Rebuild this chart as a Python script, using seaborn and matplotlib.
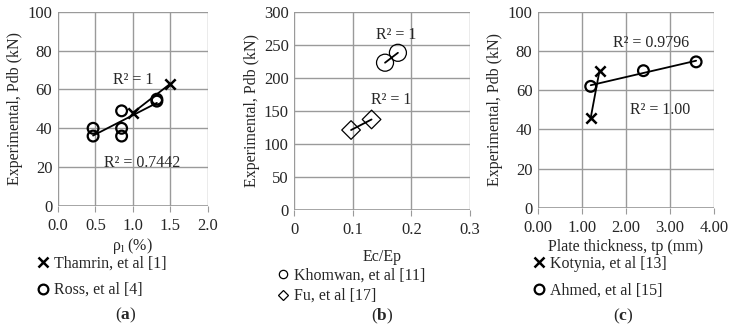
import numpy as np
import matplotlib
matplotlib.use("Agg")
from matplotlib import pyplot as plt
from matplotlib.lines import Line2D
import seaborn as sns

sns.set_style("white")
plt.rcParams['font.family'] = ['Liberation Serif', 'DejaVu Serif']
plt.rcParams['mathtext.fontset'] = 'custom'
plt.rcParams['mathtext.rm'] = 'Liberation Serif'
plt.rcParams['mathtext.it'] = 'Liberation Serif:italic'
plt.rcParams['mathtext.bf'] = 'Liberation Serif:bold'

# (a) reinforcement ratio
thamrin_x = [1.0, 1.5]
thamrin_y = [48, 63]
ross_x = [0.47, 0.47, 0.85, 0.85, 0.85, 1.32, 1.32]
ross_y = [40, 36, 49, 40, 36, 54, 55]

# (b) Ec/Ep
khomwan_x = [0.155, 0.177]
khomwan_y = [223, 238]
fu_x = [0.097, 0.132]
fu_y = [121, 137]

# (c) plate thickness
kotynia_x = [1.2, 1.4]
kotynia_y = [46, 70]
ahmed_x = [1.2, 2.4, 3.6]
ahmed_y = [62, 70, 74.5]

fs = 11.5
tfs = 12
grid_c = '#9a9a9a'
fig = plt.figure(figsize=(7.32, 3.3), dpi=100)
ax1 = fig.add_axes([0.079, 0.376, 0.205, 0.588])
ax2 = fig.add_axes([0.402, 0.364, 0.240, 0.600])
ax3 = fig.add_axes([0.735, 0.370, 0.240, 0.594])

def style(ax, xlim, xticks, ylim, yticks, xfmt):
    ax.set_xlim(*xlim)
    ax.set_ylim(*ylim)
    ax.set_xticks(xticks)
    ax.set_yticks(yticks)
    ax.set_xticklabels([xfmt.format(v) for v in xticks], fontsize=tfs)
    ax.set_yticklabels([str(v) for v in yticks], fontsize=tfs)
    ax.grid(True, color=grid_c, lw=1.0)
    for s in ax.spines.values():
        s.set_visible(False)
    ax.axhline(ylim[0], color=grid_c, lw=1.2, zorder=1)
    ax.axvline(xlim[0], color=grid_c, lw=1.2, zorder=1)
    ax.tick_params(axis='x', direction='out', length=4, color=grid_c, pad=5, bottom=True)
    ax.tick_params(axis='y', length=0, pad=4)
    ax.set_ylabel('Experimental, Pdb (kN)', fontsize=fs, labelpad=3)
    ax.set_axisbelow(True)

line_kws = dict(color='black', lw=1.3)

# panel a
sns.regplot(x=thamrin_x, y=thamrin_y, ax=ax1, scatter=False, ci=None, truncate=True, line_kws=line_kws)
sns.regplot(x=ross_x, y=ross_y, ax=ax1, scatter=False, ci=None, truncate=True, line_kws=line_kws)
sns.scatterplot(x=thamrin_x, y=thamrin_y, ax=ax1, marker='x', color='black', s=55, linewidth=1.8, zorder=3)
sns.scatterplot(x=ross_x, y=ross_y, ax=ax1, marker='o', s=60, fc='none', ec='black', linewidth=1.6, zorder=3)
style(ax1, (0, 2.0), [0.0, 0.5, 1.0, 1.5, 2.0], (0, 100), [0, 20, 40, 60, 80, 100], '{:.1f}')
ax1.set_xlabel(r'ρ$_{\mathrm{l}}$ (%)', fontsize=fs, labelpad=1)
ax1.text(1.0, 65, 'R² = 1', fontsize=fs, ha='center', va='center')
ax1.text(1.13, 22, 'R² = 0.7442', fontsize=fs, ha='center', va='center')

# panel b
sns.regplot(x=khomwan_x, y=khomwan_y, ax=ax2, scatter=False, ci=None, truncate=True, line_kws=line_kws)
sns.regplot(x=fu_x, y=fu_y, ax=ax2, scatter=False, ci=None, truncate=True, line_kws=line_kws)
sns.scatterplot(x=khomwan_x, y=khomwan_y, ax=ax2, marker='o', s=150, fc='none', ec='black', linewidth=0.9, zorder=3)
sns.scatterplot(x=fu_x, y=fu_y, ax=ax2, marker='D', s=90, fc='none', ec='black', linewidth=0.9, zorder=3)
style(ax2, (0, 0.3), [0, 0.1, 0.2, 0.3], (0, 300), [0, 50, 100, 150, 200, 250, 300], '{:g}')
ax2.set_xlabel('Ec/Ep', fontsize=fs, labelpad=8)
ax2.text(0.174, 265, 'R² = 1', fontsize=fs, ha='center', va='center')
ax2.text(0.165, 167, 'R² = 1', fontsize=fs, ha='center', va='center')

# panel c
sns.regplot(x=kotynia_x, y=kotynia_y, ax=ax3, scatter=False, ci=None, truncate=True, line_kws=line_kws)
sns.regplot(x=ahmed_x, y=ahmed_y, ax=ax3, scatter=False, ci=None, truncate=True, line_kws=line_kws)
sns.scatterplot(x=kotynia_x, y=kotynia_y, ax=ax3, marker='x', color='black', s=55, linewidth=1.8, zorder=3)
sns.scatterplot(x=ahmed_x, y=ahmed_y, ax=ax3, marker='o', s=60, fc='none', ec='black', linewidth=1.6, zorder=3)
style(ax3, (0, 4.0), [0.0, 1.0, 2.0, 3.0, 4.0], (0, 100), [0, 20, 40, 60, 80, 100], '{:.2f}')
ax3.set_xlabel('Plate thickness, tp (mm)', fontsize=fs, labelpad=2)
ax3.text(2.57, 84, 'R² = 0.9796', fontsize=fs, ha='center', va='center')
ax3.text(2.77, 50, 'R² = 1.00', fontsize=fs, ha='center', va='center')

# legends below each panel
def legend(ax, handles, x, y, spacing):
    ax.legend(handles=handles, loc='upper left', bbox_to_anchor=(x, y), bbox_transform=fig.transFigure,
              frameon=False, fontsize=fs, handlelength=0.8, handletextpad=0.3,
              labelspacing=spacing, borderpad=0, borderaxespad=0)

xh = lambda lab: Line2D([], [], marker='x', ls='none', color='black', ms=7, mew=1.8, label=lab)
oh = lambda lab, ms=7, mew=1.6: Line2D([], [], marker='o', ls='none', mfc='none', mec='black', ms=ms, mew=mew, label=lab)
dh = lambda lab: Line2D([], [], marker='D', ls='none', mfc='none', mec='black', ms=5, mew=0.9, label=lab)

legend(ax1, [xh('Thamrin, et al [1]'), oh('Ross, et al [4]')], 0.050, 0.225, 0.65)
legend(ax2, [oh('Khomwan, et al [11]', 6, 0.9), dh('Fu, et al [17]')], 0.378, 0.190, 0.3)
legend(ax3, [xh('Kotynia, et al [13]'), oh('Ahmed, et al [15]')], 0.728, 0.225, 0.7)

fig.text(0.172, 0.045, r'($\mathbf{a}$)', fontsize=12.5, ha='center', va='center')
fig.text(0.522, 0.042, r'($\mathbf{b}$)', fontsize=12.5, ha='center', va='center')
fig.text(0.852, 0.042, r'($\mathbf{c}$)', fontsize=12.5, ha='center', va='center')

fig.savefig('out.png', dpi=100)
